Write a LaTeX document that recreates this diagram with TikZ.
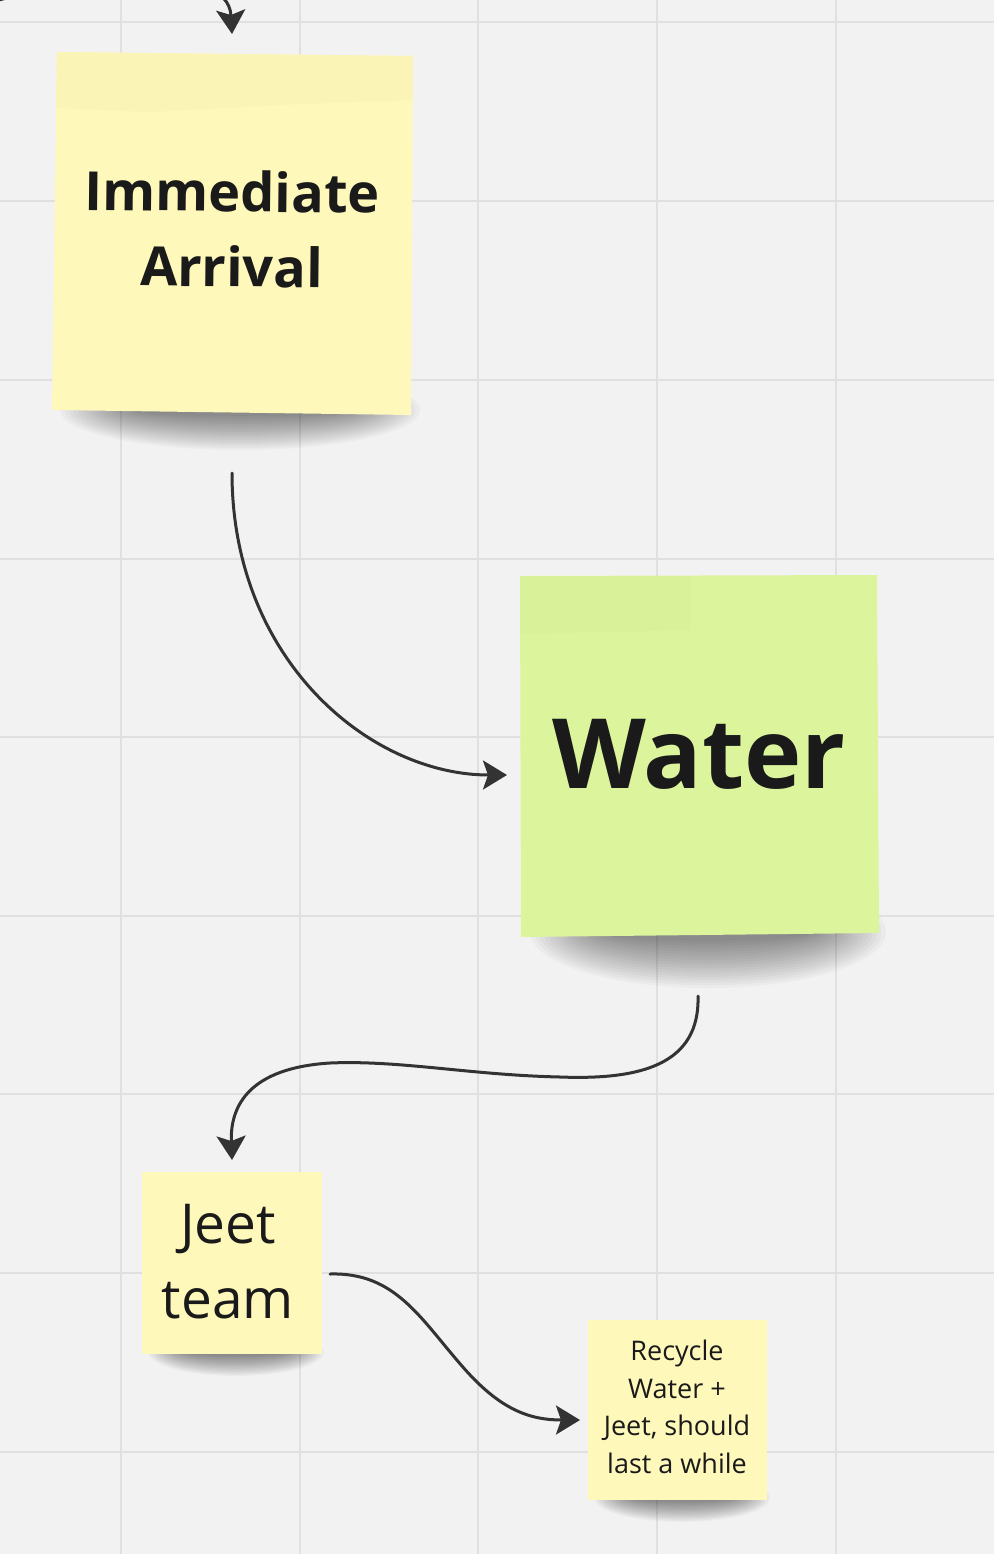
\documentclass[tikz,border=0pt]{standalone}
\usepackage{fontspec}
\setmainfont{Open Sans}
\usetikzlibrary{arrows.meta}
\definecolor{bgc}{HTML}{F2F2F2}
\definecolor{gridc}{HTML}{E0E0E0}
\definecolor{noteY}{HTML}{FEF8BB}
\definecolor{noteYtop}{HTML}{FAF4B6}
\definecolor{noteG}{HTML}{DCF59D}
\definecolor{noteGtop}{HTML}{D9F199}
\definecolor{inkc}{HTML}{333333}
\definecolor{textc}{HTML}{1A1A1A}
\tikzset{
  note/.style={inner sep=0pt, align=center, text=textc},
  conn/.style={draw=inkc, line width=3pt, line cap=round,
    -{Stealth[length=24pt,width=29pt,inset=5pt]}},
}
% soft shadow: centre x, centre y, half-width, half-height
\newcommand{\softshadow}[4]{%
  \foreach \i in {0,...,17} {
    \fill[black,opacity=0.028]
      (#1,#2) ellipse [x radius={#3*(1-0.45*\i/18)}, y radius={#4*(1-0.9*\i/18)}];
  }%
}
\begin{document}
\begin{tikzpicture}[x=1pt,y=-1pt]
\useasboundingbox (0,0) rectangle (994,1554);
\clip (0,0) rectangle (994,1554);
\fill[bgc] (0,0) rectangle (994,1554);
% grid
\foreach \gx in {121,300,478,657,836} \draw[gridc,line width=2pt] (\gx,0) -- (\gx,1554);
\foreach \gy in {22,201,380,559,737,916,1094,1273,1452} \draw[gridc,line width=2pt] (0,\gy) -- (994,\gy);
% shadows
\softshadow{240}{410}{180}{40}
\softshadow{708}{932}{178}{56}
\softshadow{236}{1352}{88}{24}
\softshadow{682}{1498}{88}{24}
% notes
\fill[noteY] (57,52) -- (413,56) -- (411,415) -- (52,410) -- cycle;
\fill[noteYtop] (57,52) -- (413,56) -- (412.5,100) -- (300,104) -- (150,112) -- (56,108) -- cycle;
\fill[noteG] (520,576) -- (877,575) -- (879,933) -- (521,937) -- cycle;
\fill[noteGtop] (520,576) -- (690,576) -- (690,630) -- (520,634) -- cycle;
\fill[noteY] (142,1172) rectangle (322,1354);
\fill[noteY] (588,1320) rectangle (767,1500);
% text nodes
\node[note, minimum width=356pt, minimum height=358pt, rotate=-0.6,
  font=\fontsize{54}{75}\selectfont\bfseries] (imm) at (232,229) {Immediate\\Arrival};
\node[note, minimum width=357pt, minimum height=360pt,
  font=\fontsize{97}{110}\selectfont\bfseries] (water) at (699,754) {Water};
\node[note, minimum width=180pt, minimum height=182pt,
  font=\fontsize{55}{75}\selectfont] (jeet) at (228,1262) {Jeet\\team};
\node[note, minimum width=179pt, minimum height=180pt,
  font=\fontsize{27}{37.5}\selectfont] (rec) at (677,1407) {Recycle\\Water +\\Jeet, should\\last a while};
% connector anchors
\coordinate (in0) at (-30,8);
\coordinate (t0) at (232,34);
\coordinate (s1) at (232,473);
\coordinate (t1) at (507,775);
\coordinate (s2) at (698,996);
\coordinate (t2) at (232,1160);
\coordinate (s3) at (330,1274);
\coordinate (t3) at (580,1420);
% connectors
\draw[conn] (in0) .. controls (80,-25) and (228,-40) .. (t0);
\draw[conn] (s1) .. controls (232,660) and (370,775) .. (t1);
\draw[conn] (s2) .. controls (700,1065) and (640,1080) .. (560,1077)
  .. controls (470,1075) and (400,1060) .. (330,1063)
  .. controls (250,1068) and (230,1105) .. (t2);
\draw[conn] (s3) .. controls (395,1272) and (420,1318) .. (462,1366)
  .. controls (500,1410) and (530,1420) .. (t3);
\end{tikzpicture}
\end{document}
